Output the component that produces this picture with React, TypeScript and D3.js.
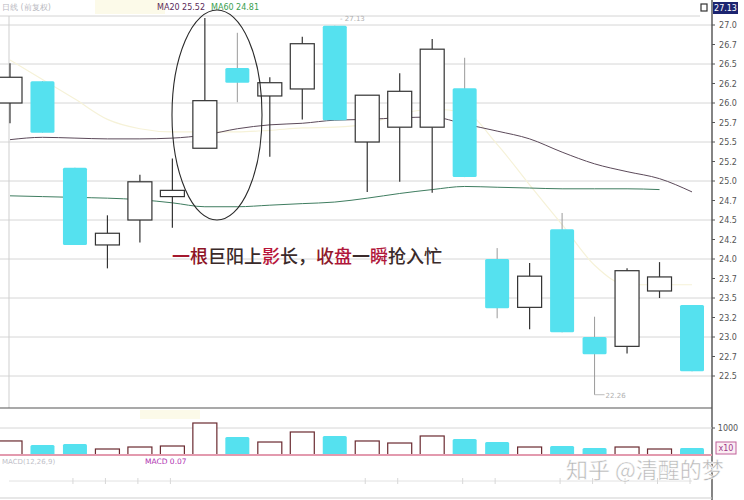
import React from "react";
import * as d3 from "d3";

const W = 744;
const H = 500;

// OHLC per candle
const opens = [26.0, 26.28, 25.17, 24.18, 24.5, 24.8, 25.42, 26.45, 26.09, 26.18, 26.99, 25.5, 25.69, 25.69, 26.19, 24.0, 23.38, 24.38, 23.0, 22.88, 23.59, 23.41];
const closes = [26.33, 25.62, 24.18, 24.33, 24.99, 24.88, 26.03, 26.26, 26.26, 26.76, 25.78, 26.1, 26.15, 26.69, 25.05, 23.37, 23.78, 23.06, 22.78, 23.85, 23.77, 22.56];
const highs = [26.51, 26.28, 25.17, 24.56, 25.08, 25.29, 27.09, 26.9, 26.33, 26.85, 26.99, 26.1, 26.38, 26.82, 26.58, 24.14, 23.95, 24.59, 23.26, 23.88, 23.96, 23.41];
const lows = [25.74, 25.62, 24.18, 23.88, 24.21, 24.4, 25.42, 26.01, 25.31, 25.79, 25.78, 24.86, 24.99, 24.85, 25.05, 23.24, 23.1, 23.06, 22.26, 22.79, 23.5, 22.56];
const volumes = [520, 370, 407, 222, 296, 333, 1185, 667, 481, 852, 704, 519, 444, 704, 593, 481, 296, 333, 259, 296, 222, 259];
const ma20 = [25.53, 25.56, 25.55, 25.54, 25.54, 25.55, 25.59, 25.67, 25.72, 25.74, 25.78, 25.79, 25.81, 25.82, 25.73, 25.64, 25.54, 25.37, 25.22, 25.12, 25.03, 24.86];
const ma60 = [24.81, 24.8, 24.79, 24.78, 24.76, 24.72, 24.67, 24.67, 24.69, 24.71, 24.73, 24.78, 24.84, 24.89, 24.93, 24.92, 24.91, 24.9, 24.9, 24.9, 24.89];
const ma5 = [26.55, 26.3, 26.05, 25.79, 25.67, 25.63, 25.63, 25.63, 25.65, 25.68, 25.69, 25.73, 25.86, 25.92, 25.88, 25.47, 24.95, 24.44, 23.92, 23.67, 23.67, 23.67];

const priceTicks = [27.0, 26.75, 26.5, 26.25, 26.0, 25.75, 25.5, 25.25, 25.0, 24.75, 24.5, 24.25, 24.0, 23.75, 23.5, 23.25, 23.0, 22.75, 22.5];
const priceTickLabels = ["27.0", "26.7", "26.5", "26.2", "26.0", "25.7", "25.5", "25.2", "25.0", "24.7", "24.5", "24.2", "24.0", "23.7", "23.5", "23.2", "23.0", "22.7", "22.5"];
const gridValues = [27.0, 26.5, 26.0, 25.5, 25.0, 24.5, 24.0, 23.5, 23.0, 22.5];
const volTicks = [1000];
const volTickLabels = ["1000"];

const annotationParts = [
  { t: "一", c: "#a4182e" },
  { t: "根", c: "#8e1426" },
  { t: "巨阳上", c: "#3a2a2a" },
  { t: "影", c: "#b8163a" },
  { t: "长，", c: "#3a2a2a" },
  { t: "收", c: "#8e1a2a" },
  { t: "盘", c: "#b0163a" },
  { t: "一", c: "#3a2a2a" },
  { t: "瞬", c: "#b0163a" },
  { t: "抢入忙", c: "#3a2a2a" },
];

const CYAN = "#55e1ef";

export default function App() {
  const n = opens.length;
  const x = d3.scaleLinear().domain([0, n - 1]).range([10, 692]);
  const y = d3.scaleLinear().domain([22.5, 27]).range([376, 25]);
  const yv = d3.scaleLinear().domain([0, 1000]).range([455, 428]);
  const bw = 24;

  const line = d3
    .line<number>()
    .x((_, i) => x(i))
    .y((d) => y(d))
    .curve(d3.curveMonotoneX);

  const plotLeft = 9;
  const axisX = 712;

  return (
    <svg
      width={W}
      height={H}
      style={{ position: "absolute", left: 0, top: 0, background: "#ffffff" }}
      fontFamily="'DejaVu Sans', sans-serif"
    >
      <rect x={0} y={0} width={W} height={H} fill="#ffffff" />
      {/* header haze */}
      <rect x={95} y={0} width={70} height={14} fill="#fbf8e0" opacity={0.7} />
      {/* header texts */}
      <text x={2} y={10} fontSize={8} fill="#b8b8c0">日线 (前复权)</text>
      <text x={157} y={10} fontSize={8} fill="#5a2a5a">MA20 25.52</text>
      <text x={211} y={10} fontSize={8} fill="#3aa050">MA60 24.81</text>

      {/* top lines */}
      <line x1={0} x2={700} y1={16} y2={16} stroke="#d4d4d4" strokeWidth={1} />
      <rect x={701} y={4} width={6} height={7} fill="none" stroke="#333" strokeWidth={1.2} />
      <rect x={713} y={2} width={25} height={12} fill="#1c2470" />
      <text x={725.5} y={11} fontSize={8} fill="#ffffff" textAnchor="middle">27.13</text>

      {/* grid */}
      {gridValues.map((v) => (
        <line key={v} x1={0} x2={axisX} y1={y(v)} y2={y(v)} stroke="#d6d6d6" strokeWidth={1} />
      ))}
      <line x1={plotLeft} x2={plotLeft} y1={16} y2={408} stroke="#cfcfcf" strokeWidth={1} />

      {/* MA lines */}
      <path d={line(ma5) || ""} fill="none" stroke="#f6f2d8" strokeWidth={1.2} />
      <path d={line(ma20) || ""} fill="none" stroke="#5c4a5a" strokeWidth={1} />
      <path d={line(ma60) || ""} fill="none" stroke="#3f7d60" strokeWidth={1} />

      {/* candles */}
      {opens.map((o, i) => {
        const c = closes[i];
        const up = c >= o;
        const top = y(Math.max(o, c));
        const bot = y(Math.min(o, c));
        const cx = x(i);
        if (up) {
          return (
            <g key={i}>
              <line x1={cx} x2={cx} y1={y(highs[i])} y2={top} stroke="#333" strokeWidth={1.2} />
              <line x1={cx} x2={cx} y1={bot} y2={y(lows[i])} stroke="#333" strokeWidth={1.2} />
              <rect x={cx - bw / 2} y={top} width={bw} height={Math.max(1, bot - top)} fill="#ffffff" stroke="#333" strokeWidth={1.2} />
            </g>
          );
        }
        return (
          <g key={i}>
            <line x1={cx} x2={cx} y1={y(highs[i])} y2={y(lows[i])} stroke="#9a9a9a" strokeWidth={1} />
            <rect x={cx - bw / 2} y={top} width={bw} height={Math.max(1, bot - top)} fill={CYAN} rx={1.5} />
          </g>
        );
      })}

      {/* max / min markers */}
      <text x={340} y={21} fontSize={7} fill="#b0b0b0">- 27.13</text>
      <line x1={x(18)} x2={x(18) + 10} y1={y(lows[18])} y2={y(lows[18])} stroke="#aaa" strokeWidth={0.8} />
      <text x={x(18) + 11} y={y(lows[18]) + 3} fontSize={7} fill="#b0b0b0">22.26</text>

      {/* ellipse highlight */}
      <ellipse cx={217} cy={115} rx={45} ry={105} fill="none" stroke="#2a2a2a" strokeWidth={1.1} />

      {/* annotation */}
      <text x={172} y={263} fontSize={18} fontFamily="'Noto Sans CJK SC', sans-serif" fontWeight={500}>
        {annotationParts.map((p, k) => (
          <tspan key={k} fill={p.c}>{p.t}</tspan>
        ))}
      </text>

      {/* right price axis */}
      <line x1={axisX} x2={axisX} y1={0} y2={H} stroke="#333" strokeWidth={1.2} />
      {priceTicks.map((v, k) => (
        <g key={v}>
          <line x1={axisX} x2={axisX + 3} y1={y(v)} y2={y(v)} stroke="#555" strokeWidth={1} />
          <text x={728} y={y(v) + 3} fontSize={8} fill="#555" textAnchor="middle">{priceTickLabels[k]}</text>
        </g>
      ))}

      {/* volume panel */}
      <line x1={0} x2={axisX} y1={408} y2={408} stroke="#555" strokeWidth={1.2} />
      <rect x={140} y={410} width={60} height={9} fill="#fbf8e0" opacity={0.7} />
      {volTicks.map((v, k) => (
        <g key={v}>
          <line x1={0} x2={axisX} y1={yv(v)} y2={yv(v)} stroke="#d6d6d6" strokeWidth={1} />
          <line x1={axisX} x2={axisX + 3} y1={yv(v)} y2={yv(v)} stroke="#555" strokeWidth={1} />
          <text x={728} y={yv(v) + 3} fontSize={8} fill="#555" textAnchor="middle">{volTickLabels[k]}</text>
        </g>
      ))}
      {volumes.map((v, i) => {
        const up = closes[i] >= opens[i];
        const cx = x(i);
        const t = yv(v);
        return up ? (
          <rect key={i} x={cx - bw / 2} y={t} width={bw} height={455 - t} fill="#ffffff" stroke="#6a2a30" strokeWidth={1.2} />
        ) : (
          <rect key={i} x={cx - bw / 2} y={t} width={bw} height={455 - t} fill={CYAN} rx={1.5} />
        );
      })}
      <line x1={0} x2={axisX} y1={455} y2={455} stroke="#e39aae" strokeWidth={2} />
      <rect x={716} y={442} width={20} height={12} fill="#fbeef3" stroke="#c0609a" strokeWidth={1} />
      <text x={726} y={451} fontSize={8} fill="#a03a8a" textAnchor="middle">x10</text>

      {/* MACD panel */}
      <text x={2} y={464} fontSize={7} fill="#c0c0c8">MACD(12,26,9)</text>
      <text x={145} y={464} fontSize={7.5} fill="#b030b0">MACD 0.07</text>
      <line x1={plotLeft} x2={axisX - 20} y1={481} y2={481} stroke="#e2e2e2" strokeWidth={1} />
      {[2, 3, 4, 5, 11, 12, 14, 15, 17, 18, 19, 20, 21].map((i) => (
        <line key={i} x1={x(i) - 2} x2={x(i) - 2} y1={478} y2={484} stroke="#d8d8d8" strokeWidth={1} />
      ))}
      <line x1={0} x2={axisX} y1={498} y2={498} stroke="#cfcfcf" strokeWidth={1} />

      {/* watermark */}
      <text x={566} y={478} fontSize={22} fill="#b4b4b4" stroke="#ffffff" strokeWidth={0.5} fontFamily="'Noto Sans CJK SC', sans-serif">知乎 @清醒的梦</text>
    </svg>
  );
}
